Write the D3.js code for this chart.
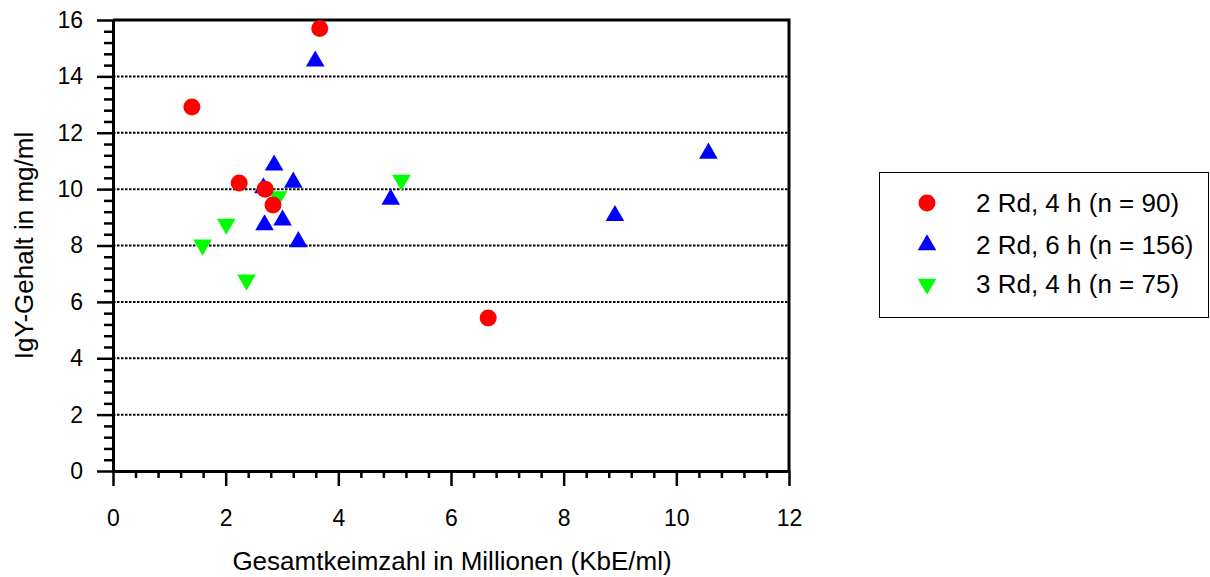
<!DOCTYPE html>
<html>
<head>
<meta charset="utf-8">
<script src="https://cdn.jsdelivr.net/npm/d3@7"></script>
<style>
  body { margin: 0; background: #fff; }
  svg { font-family: "Liberation Sans", Arial, sans-serif; }
</style>
</head>
<body>
<div id="chart"></div>
<script>
// Values
const seriesNames = ["2 Rd, 4 h (n = 90)", "2 Rd, 6 h (n = 156)", "3 Rd, 4 h (n = 75)"];
const redX   = [1.40, 3.67, 2.24, 2.70, 2.84, 6.66];
const redY   = [12.91, 15.70, 10.22, 10.00, 9.44, 5.43];
const blueX  = [3.59, 2.86, 3.20, 2.69, 3.01, 3.29, 4.93, 2.67, 10.57, 8.91];
const blueY  = [14.54, 10.85, 10.24, 8.73, 8.90, 8.13, 9.64, 10.04, 11.27, 9.06];
const greenX = [2.01, 1.59, 2.37, 5.12, 2.93];
const greenY = [8.76, 8.02, 6.78, 10.32, 9.73];
const xTicks = [0, 2, 4, 6, 8, 10, 12];
const yTicks = [0, 2, 4, 6, 8, 10, 12, 14, 16];

const width = 1210, height = 577;
const pLeft = 113, pRight = 789, pTop = 20, pBottom = 471;

const svg = d3.select("#chart").append("svg")
    .attr("width", width)
    .attr("height", height);

const x = d3.scaleLinear().domain([0, 12]).range([pLeft, pRight]);
const y = d3.scaleLinear().domain([0, 16]).range([pBottom, pTop]);

// dotted gridlines
svg.append("g")
    .selectAll("line")
    .data(yTicks.filter(d => d > 0 && d < 16))
    .enter().append("line")
    .attr("x1", pLeft).attr("x2", pRight)
    .attr("y1", d => y(d)).attr("y2", d => y(d))
    .attr("stroke", "#000")
    .attr("stroke-width", 2)
    .attr("stroke-dasharray", "2.5,1.5");

// minor ticks, five steps between labelled ticks
const xMinor = d3.range(0, 12.001, 0.4).filter(v => Math.abs(v / 2 - Math.round(v / 2)) > 0.01);
const yMinor = d3.range(0, 16.001, 0.4).filter(v => Math.abs(v / 2 - Math.round(v / 2)) > 0.01);

const xAxis = svg.append("g")
    .attr("transform", `translate(0,${pBottom})`)
    .call(d3.axisBottom(x).tickValues(xTicks).tickSize(15).tickPadding(24).tickSizeOuter(0));
xAxis.append("g")
    .call(d3.axisBottom(x).tickValues(xMinor).tickSize(7).tickFormat("").tickSizeOuter(0))
    .select(".domain").remove();

const yAxis = svg.append("g")
    .attr("transform", `translate(${pLeft},0)`)
    .call(d3.axisLeft(y).tickValues(yTicks).tickSize(16).tickPadding(14).tickSizeOuter(0));
yAxis.append("g")
    .call(d3.axisLeft(y).tickValues(yMinor).tickSize(9).tickFormat("").tickSizeOuter(0))
    .select(".domain").remove();

svg.selectAll(".domain").attr("stroke", "#000").attr("stroke-width", 3);
svg.selectAll(".tick line").attr("stroke", "#000").attr("stroke-width", 2.5);
svg.selectAll(".tick text")
    .attr("fill", "#000")
    .style("font-size", "23px")
    .style("font-family", "Liberation Sans, Arial, sans-serif");

// top and right frame
svg.append("path")
    .attr("d", `M${pLeft},${pTop}H${pRight}V${pBottom}`)
    .attr("fill", "none")
    .attr("stroke", "#000")
    .attr("stroke-width", 3);

// axis titles
svg.append("text")
    .attr("x", 452)
    .attr("y", 570)
    .attr("text-anchor", "middle")
    .style("font-size", "26px")
    .text("Gesamtkeimzahl in Millionen (KbE/ml)");

svg.append("text")
    .attr("transform", `translate(33,${(pTop + pBottom) / 2}) rotate(-90)`)
    .attr("text-anchor", "middle")
    .style("font-size", "26px")
    .text("IgY-Gehalt in mg/ml");

// markers
const up = d3.symbol().type(d3.symbolTriangle).size(150);
const drawTri = (xs, ys, color, flip) => {
    svg.append("g")
        .selectAll("path")
        .data(xs.map((v, i) => [v, ys[i]]))
        .enter().append("path")
        .attr("d", up)
        .attr("transform", d => `translate(${x(d[0])},${y(d[1])})${flip ? " rotate(180)" : ""}`)
        .attr("fill", color);
};
drawTri(greenX, greenY, "#00ff00", true);
drawTri(blueX, blueY, "#0000ff", false);

svg.append("g")
    .selectAll("circle")
    .data(redX.map((v, i) => [v, redY[i]]))
    .enter().append("circle")
    .attr("cx", d => x(d[0]))
    .attr("cy", d => y(d[1]))
    .attr("r", 8.5)
    .attr("fill", "#ff0000");

// legend
const lg = svg.append("g");
lg.append("rect")
    .attr("x", 879.5).attr("y", 172.5)
    .attr("width", 329).attr("height", 145)
    .attr("fill", "#fff")
    .attr("stroke", "#000")
    .attr("stroke-width", 1);

const rowY = [203, 245, 284];
const colors = ["#ff0000", "#0000ff", "#00ff00"];
seriesNames.forEach((name, i) => {
    if (i === 0) {
        lg.append("circle").attr("cx", 927).attr("cy", rowY[i]).attr("r", 8.5).attr("fill", colors[i]);
    } else {
        lg.append("path")
            .attr("d", up)
            .attr("transform", `translate(927,${rowY[i]})${i === 2 ? " rotate(180)" : ""}`)
            .attr("fill", colors[i]);
    }
    lg.append("text")
        .attr("x", 976)
        .attr("y", rowY[i])
        .attr("dy", "0.35em")
        .style("font-size", "26px")
        .text(name);
});
</script>
</body>
</html>
